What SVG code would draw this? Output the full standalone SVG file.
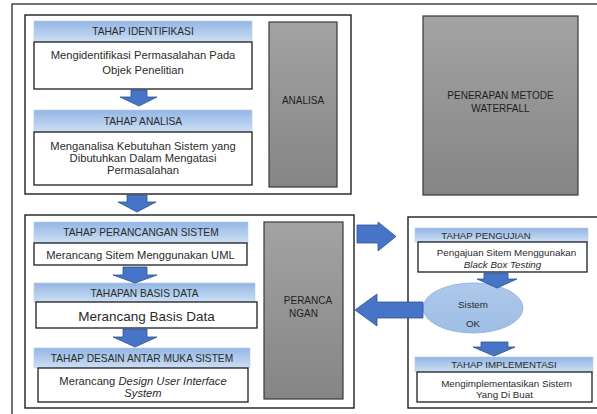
<svg xmlns="http://www.w3.org/2000/svg" width="597" height="414" viewBox="0 0 597 414">
  <defs>
    <linearGradient id="hdr" x1="0" y1="0" x2="0" y2="1">
      <stop offset="0" stop-color="#93b6e4"/>
      <stop offset="1" stop-color="#cddff4"/>
    </linearGradient>
    <linearGradient id="gray" x1="0" y1="0" x2="0" y2="1">
      <stop offset="0" stop-color="#a3a3a3"/>
      <stop offset="1" stop-color="#858585"/>
    </linearGradient>
    <linearGradient id="oval" x1="0" y1="0" x2="0" y2="1">
      <stop offset="0" stop-color="#adc9eb"/>
      <stop offset="1" stop-color="#9fbee5"/>
    </linearGradient>
    <style>
      text { font-family: "Liberation Sans", Arial, sans-serif; fill: #2b2b2b; text-anchor: middle; dominant-baseline: central; }
      .frame { fill: #ffffff; stroke: #1e1e1e; stroke-width: 1.4; }
      .hdr { fill: url(#hdr); stroke: #b7cbe6; stroke-width: 0.6; }
      .box { fill: #ffffff; stroke: #1e1e1e; stroke-width: 1.3; }
      .gray { fill: url(#gray); stroke: #3a3a3a; stroke-width: 1.2; }
      .blk { fill: #4674c6; stroke: #2f528f; stroke-width: 0.8; }
      .h { font-size: 10.2px; }
      .t { font-size: 11.2px; }
      .s { font-size: 9.8px; }
      .sh { font-size: 9.7px; }
      .g { font-size: 10px; fill: #1e1e1e; }
      .it { font-style: italic; }
    </style>
  </defs>

  <!-- page frame -->
  <rect x="12" y="4" width="592" height="420" fill="#ffffff" stroke="#2a2a2a" stroke-width="1.3"/>

  <!-- analysis section -->
  <g id="analisa-section">
    <rect class="frame" x="25" y="15" width="326" height="179"/>
  </g>
  <g id="tahap-identifikasi">
    <rect class="hdr" x="34" y="21" width="218" height="21"/>
    <text class="h" x="143" y="31.5">TAHAP IDENTIFIKASI</text>
    <rect class="box" x="34" y="42" width="218" height="47"/>
    <text class="t" x="143" y="55">Mengidentifikasi Permasalahan Pada</text>
    <text class="t" x="143" y="70">Objek Penelitian</text>
  </g>
  <g id="tahap-analisa">
    <rect class="hdr" x="34" y="110" width="218" height="22"/>
    <text class="h" x="143" y="121">TAHAP ANALISA</text>
    <rect class="box" x="34" y="132" width="218" height="53"/>
    <text class="t" x="143" y="146">Menganalisa Kebutuhan Sistem yang</text>
    <text class="t" x="143" y="158">Dibutuhkan Dalam Mengatasi</text>
    <text class="t" x="143" y="170">Permasalahan</text>
  </g>
  <g id="analisa">
    <rect class="gray" x="269" y="22" width="68" height="165"/>
    <text class="g" x="303" y="100">ANALISA</text>
  </g>

  <g id="penerapan-metode">
    <rect class="gray" x="423" y="16" width="155" height="179" stroke="#555"/>
    <text class="g" x="500.5" y="95" font-size="11.3px">PENERAPAN METODE</text>
    <text class="g" x="500.5" y="108" font-size="11.3px">WATERFALL</text>
  </g>

  <!-- design section -->
  <g id="perancangan-section">
    <rect class="frame" x="25" y="215" width="329" height="193"/>
  </g>
  <g id="tahap-perancangan-sistem">
    <rect class="hdr" x="34" y="222" width="214" height="21"/>
    <text class="h" x="141" y="232.5">TAHAP PERANCANGAN SISTEM</text>
    <rect class="box" x="34" y="243" width="213" height="22"/>
    <text class="t" x="140.5" y="254.5">Merancang Sitem Menggunakan UML</text>
  </g>
  <g id="tahapan-basis-data">
    <rect class="hdr" x="34" y="283" width="221" height="19"/>
    <text class="h" x="144.5" y="293">TAHAPAN BASIS DATA</text>
    <rect class="box" x="36" y="302" width="221" height="26"/>
    <text x="146.5" y="316" font-size="13.5px">Merancang Basis Data</text>
  </g>
  <g id="tahap-desain-antar-muka">
    <rect class="hdr" x="34" y="348" width="216" height="20"/>
    <text class="h" x="142" y="358">TAHAP DESAIN ANTAR MUKA SISTEM</text>
    <rect class="box" x="38" y="368" width="210" height="34"/>
    <text class="t" x="143" y="381">Merancang <tspan class="it">Design User Interface</tspan></text>
    <text class="t it" x="143" y="393">System</text>
  </g>
  <g id="perancangan">
    <rect class="gray" x="264" y="222" width="79" height="177"/>
    <text class="g" x="308" y="300" font-size="12.5px">PERANCA</text>
    <text class="g" x="303.5" y="313" font-size="12.5px">NGAN</text>
  </g>

  <!-- testing and implementation section -->
  <g id="pengujian-section">
    <rect class="frame" x="408" y="217" width="192" height="191"/>
  </g>
  <g id="tahap-pengujian">
    <rect class="hdr" x="415" y="228" width="173" height="14"/>
    <text class="sh" x="486" y="235.5">TAHAP PENGUJIAN</text>
    <rect class="box" x="418" y="242" width="169" height="30"/>
    <text class="s" x="506.5" y="252.5">Pengajuan Sitem Menggunakan</text>
    <text class="s it" x="502.5" y="264">Black Box Testing</text>
  </g>
  <g id="sistem-ok">
    <ellipse cx="473" cy="308" rx="50" ry="25" fill="url(#oval)" stroke="#8aaedc" stroke-width="0.8"/>
    <text class="s" x="473" y="304" font-size="9px">Sistem</text>
    <text class="s" x="473" y="323" font-size="9px">OK</text>
  </g>
  <g id="tahap-implementasi">
    <rect class="hdr" x="415" y="357" width="178" height="15"/>
    <text class="sh" x="504" y="364.5">TAHAP IMPLEMENTASI</text>
    <rect class="box" x="417" y="372" width="175" height="30"/>
    <text class="s" x="506.5" y="383">Mengimplementasikan Sistem</text>
    <text class="s" x="504.5" y="394">Yang Di Buat</text>
  </g>

  <!-- connectors: block arrows -->
  <g id="connectors">
    <polygon class="blk" points="131,90 147,90 147,97 157,97 139,106 120,97 131,97"/>
    <polygon class="blk" points="127,195 147,195 147,202 156,202 137,212 118,202 127,202"/>
    <polygon class="blk" points="123,267 147,267 147,275 157,275 135,283 113,275 123,275"/>
    <polygon class="blk" points="123,329 147,329 147,337 157,337 135,347 113,337 123,337"/>
    <polygon class="blk" points="484,273 508,273 508,279 517,279 497,288 477,279 484,279"/>
    <polygon class="blk" points="481,342 508,342 508,347 515,347 494,356 473,347 481,347"/>
    <polygon class="blk" points="357,225 378,225 378,222 396,236.5 378,251 378,243 357,243"/>
    <polygon class="blk" points="423,302 377,302 377,294 355,310 377,326 377,318 423,318"/>
  </g>
</svg>
